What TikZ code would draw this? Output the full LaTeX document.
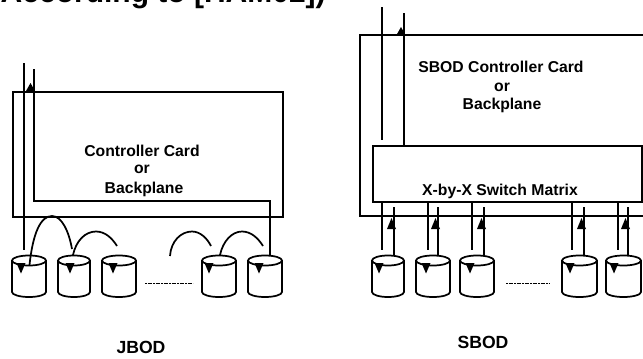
\documentclass[tikz,border=0pt]{standalone}
\usepackage{fontspec}
\setmainfont{Liberation Sans}
\tikzset{
  ln/.style={line width=1.3pt,line join=miter},
  lbl/.style={font=\bfseries\fontsize{11.8}{14}\selectfont,align=center,inner sep=0pt},
  capt/.style={font=\bfseries\fontsize{13.2}{15}\selectfont,inner sep=0pt},
  box/.style={draw,ln,inner sep=0pt,anchor=north west},
  dots/.style={line width=1.2pt,dash pattern=on 1.6pt off 0.4pt}
}
% drum: name, left x, right x, x of the head
\newcommand{\drum}[4]{%
  \pgfmathsetmacro{\rx}{(#3-#2)/2}
  \coordinate (#1) at ({(#2+#3)/2},260.5);
  \draw[ln,line join=round] (#2,260.5) arc[start angle=180,end angle=360,x radius=\rx,y radius=5]
     -- (#3,292) arc[start angle=0,end angle=180,x radius=\rx,y radius=5] -- cycle;
  \draw[ln] (#2,260.5) arc[start angle=180,end angle=0,x radius=\rx,y radius=5];
  \fill (#4-4.5,263) -- (#4+4.5,263) -- (#4,273.5) -- cycle;
}
\newcommand{\headup}[3]{\fill (#1-4.5,#3) -- (#1+4.5,#3) -- (#1,#2) -- cycle;}
\begin{document}
\begin{tikzpicture}[x=0.75pt,y=-0.75pt]
\useasboundingbox (0,0) rectangle (643,358);
\begin{scope}
\clip (0,0) rectangle (643,358);
\node[anchor=base east,inner sep=0pt,font=\bfseries\fontsize{22.5}{27}\selectfont] (title) at (326,2) {According to [HAM02])};
\end{scope}

% ---------- JBOD
\node[box,minimum width=202.5pt,minimum height=93.75pt] (jc) at (12,91) {};
\node[lbl] (jl1) at (142,151) {Controller Card};
\node[lbl] (jl2) at (142,169) {or};
\node[lbl] (jl3) at (144,189) {Backplane};
\node[capt] (jcap) at (141,347) {JBOD};

\drum{ja}{12}{46}{21}
\drum{jb}{58}{90}{70}
\drum{jc3}{102}{136}{113}
\drum{jd}{202}{236}{209}
\drum{je}{248}{282}{259}

\coordinate (jout) at (24,63);
\coordinate (joutend) at (24,250);
\coordinate (jin) at (34,69);
\coordinate (jcorner1) at (34,201);
\coordinate (jcorner2) at (270,201);
\coordinate (jend) at (270,256);
\draw[ln] (jout) -- (joutend);
\draw[ln] (jin) -- (jcorner1) -- (jcorner2) -- (jend);
\headup{30.5}{83}{91}

\coordinate (a1) at (29.5,265);
\coordinate (a2) at (52,216);
\coordinate (a3) at (72,249);
\coordinate (b1) at (73,255);
\coordinate (b2) at (96,231.5);
\coordinate (b3) at (117,246);
\coordinate (c1) at (170,256);
\coordinate (c2) at (192,231.5);
\coordinate (c3) at (211,246);
\coordinate (d1) at (220,255);
\coordinate (d2) at (242,231.5);
\coordinate (d3) at (263,246);
\draw[ln] (a1) .. controls (33,232) and (41,216) .. (a2) .. controls (62,216) and (69,232) .. (a3);
\draw[ln] (b1) .. controls (76,241) and (85,231.5) .. (b2) .. controls (105,231.5) and (112,238) .. (b3);
\draw[ln] (c1) .. controls (171,241) and (181,231.5) .. (c2) .. controls (200,231.5) and (207,238) .. (c3);
\draw[ln] (d1) .. controls (223,241) and (232,231.5) .. (d2) .. controls (251,231.5) and (258,238) .. (d3);
\coordinate (jdots1) at (145,283.5);
\coordinate (jdots2) at (193,283.5);
\draw[dots] (jdots1) -- (jdots2);

% ---------- SBOD
\coordinate (sNE) at (644,35);
\coordinate (sNW) at (360,35);
\coordinate (sSW) at (360,216);
\coordinate (sSE) at (644,216);
\draw[ln] (sNE) -- (sNW) -- (sSW) -- (sSE);
\node[box,minimum width=201.75pt,minimum height=42pt] (sw) at (372,145) {};
\node[lbl] (sl1) at (501,67) {SBOD Controller Card};
\node[lbl] (sl2) at (502,87) {or};
\node[lbl] (sl3) at (502,105) {Backplane};
\node[lbl] (sl4) at (500,191) {X-by-X Switch Matrix};
\node[capt] (scap) at (483,342) {SBOD};

\drum{sa}{372}{404}{379}
\drum{sb}{416}{450}{426}
\drum{sc}{460}{494}{470}
\drum{sd}{562}{597}{570}
\drum{se}{606}{641}{614}

\coordinate (so) at (382,7);
\coordinate (soe) at (382,140);
\coordinate (si) at (404,13);
\draw[ln] (so) -- (soe);
\draw[ln] (si) -- (si |- sw.north);
\headup{401}{27}{35}

\foreach \n/\xa/\xb/\xh in {1/382/394/391.5,2/428/438/435.5,3/472/484/481.5,4/572/584/581.5,5/618/628/625.5}{
  \coordinate (dn\n) at (\xa,250);
  \coordinate (up\n) at (\xb,256);
  \coordinate (ut\n) at (\xb,207);
  \draw[ln] (dn\n |- sw.south) -- (dn\n);
  \draw[ln] (up\n) -- (ut\n);
  \headup{\xh}{218}{229}
}
\coordinate (sdots1) at (506,283.5);
\coordinate (sdots2) at (549,283.5);
\draw[dots] (sdots1) -- (sdots2);
\end{tikzpicture}
\end{document}
